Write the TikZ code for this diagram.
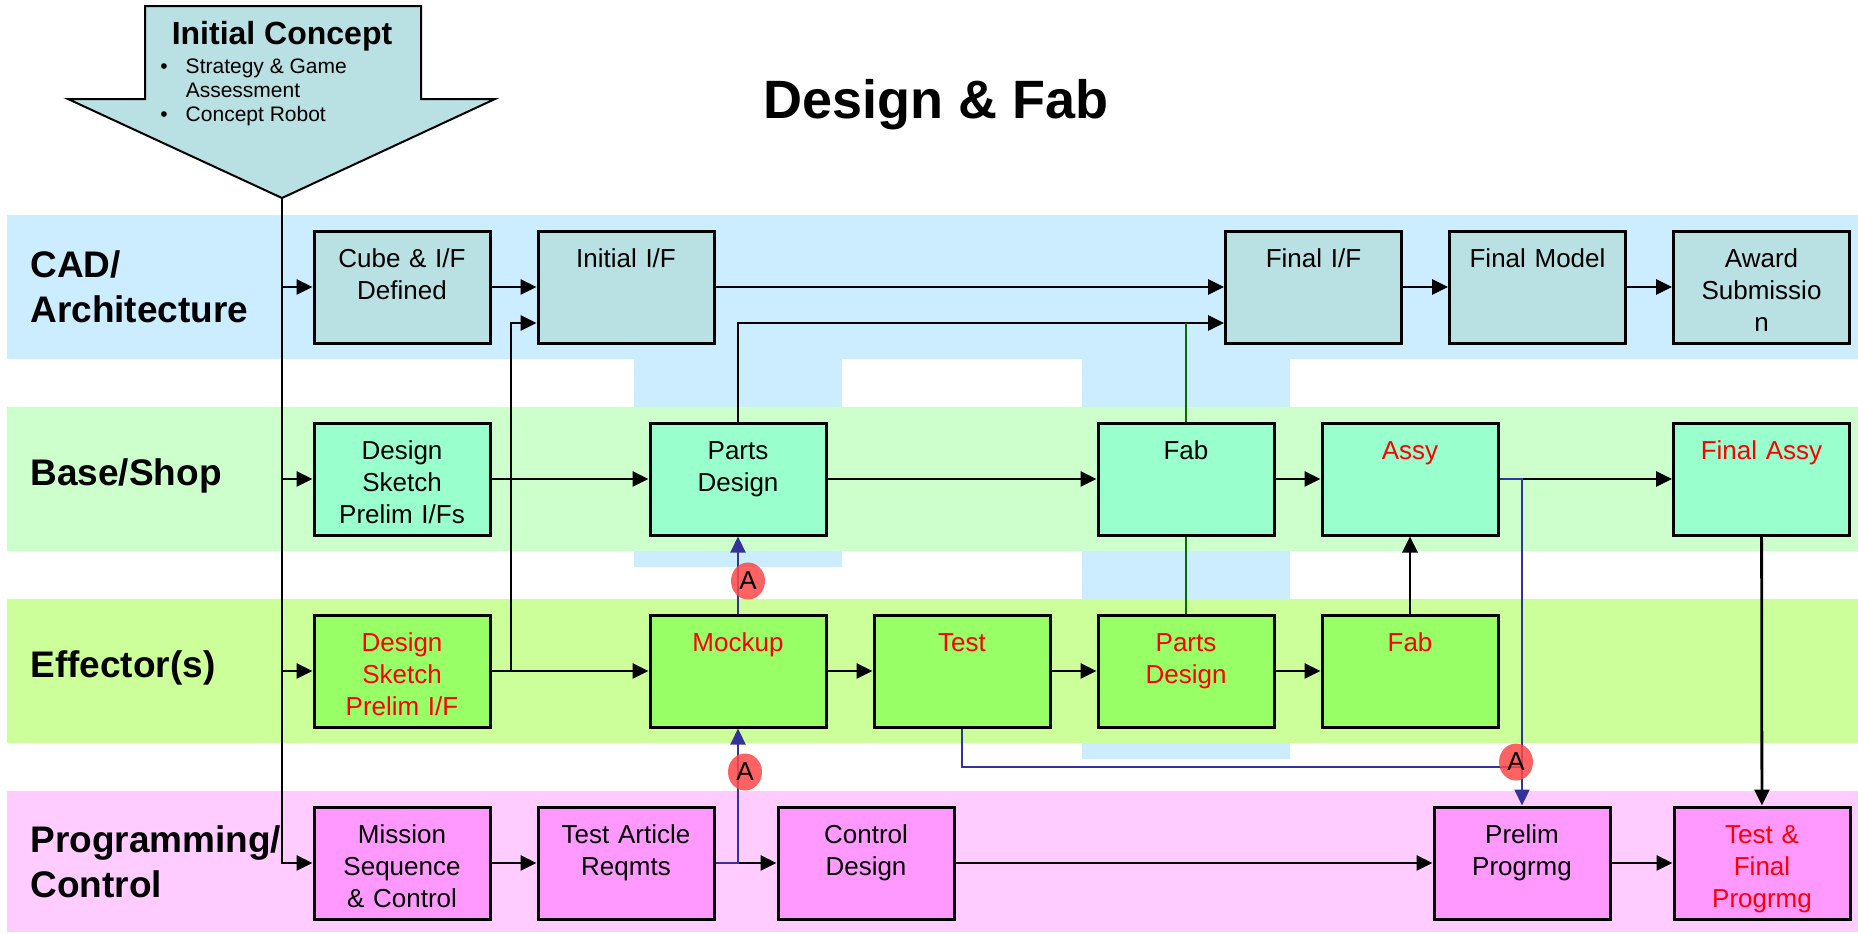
\documentclass[tikz,border=0pt]{standalone}
\usepackage{fontspec}
\setmainfont{Liberation Sans}
\usetikzlibrary{arrows.meta, shapes.geometric}
\definecolor{cadband}{RGB}{204,236,255}
\definecolor{baseband}{RGB}{204,255,204}
\definecolor{effband}{RGB}{204,255,153}
\definecolor{progband}{RGB}{255,204,255}
\definecolor{cadfill}{RGB}{185,224,227}
\definecolor{basefill}{RGB}{153,255,204}
\definecolor{efffill}{RGB}{153,255,102}
\definecolor{progfill}{RGB}{255,153,255}
\definecolor{linkblue}{RGB}{51,51,153}
\definecolor{linkgreen}{RGB}{0,110,0}
\definecolor{markred}{RGB}{255,70,70}

\begin{document}
\begin{tikzpicture}[x=0.5pt, y=-0.5pt, >={Triangle[length=8pt,width=7.5pt]},
  box/.style={draw, line width=1.5pt, minimum width=88pt, text width=84pt, align=center,
    inner xsep=2pt, inner ysep=0pt, text height=18pt, text depth=38pt,
    font=\fontsize{13}{16}\selectfont},
  cad/.style={box, fill=cadfill},
  shop/.style={box, fill=basefill},
  eff/.style={box, fill=efffill, text=red},
  prog/.style={box, fill=progfill},
  lane/.style={anchor=base west, align=left, inner sep=0pt, font=\fontsize{18.5}{22.5}\selectfont\bfseries},
  flow/.style={->, line width=1.4pt},
  blink/.style={line width=1.1pt, draw=linkblue},
  glink/.style={line width=1pt, draw=linkgreen},
  amark/.style={ellipse, fill=markred, fill opacity=0.85, text opacity=1, minimum width=17pt,
    minimum height=18.5pt, inner sep=0pt, font=\fontsize{13}{16}\selectfont}]
  \useasboundingbox (0,0) rectangle (1858,932);
  % swim lanes
  \fill[cadband] (634,359) rectangle (842,567);
  \fill[cadband] (1082,359) rectangle (1290,759);
  \fill[cadband] (7,215) rectangle (1858,359);
  \fill[baseband] (7,407) rectangle (1858,551);
  \fill[effband] (7,599) rectangle (1858,743);
  \fill[progband] (7,791) rectangle (1858,932);
  \node[lane] (lcad) at (30,322) {CAD/\\Architecture};
  \node[lane] (lbase) at (30,485) {Base/Shop};
  \node[lane] (leff) at (30,677) {Effector(s)};
  \node[lane] (lprog) at (30,897) {Programming/\\Control};
  % title
  \node[anchor=base, font=\fontsize{27}{32}\selectfont\bfseries] (title) at (936,118) {Design \& Fab};
  % initial concept arrow
  \filldraw[fill=cadfill, line width=1pt] (145,6) -- (421,6) -- (421,99) -- (495,99) -- (282,198)
    -- (68,99) -- (145,99) -- cycle;
  \coordinate (tip) at (282,198);
  \node[anchor=base, font=\fontsize{16}{19}\selectfont\bfseries] (concept) at (282,44) {Initial Concept};
  \node[anchor=base west, inner sep=0pt, font=\fontsize{10.5}{12}\selectfont] (ideas) at (160,73)
    {\begin{tabular}[t]{@{}l@{\hspace{9pt}}l@{}}
      \textbullet & Strategy \& Game\\
                  & Assessment\\
      \textbullet & Concept Robot
    \end{tabular}};
  % CAD/Architecture
  \node[cad] (cube) at (402,287) {Cube \& I/F\\Defined};
  \node[cad] (initif) at (626,287) {Initial I/F};
  \node[cad] (finalif) at (1313.5,287) {Final I/F};
  \node[cad] (finalmodel) at (1537.5,287) {Final Model};
  \node[cad] (award) at (1761.5,287) {Award\\Submissio\\n};
  % Base/Shop
  \node[shop] (dsbase) at (402,479) {Design\\Sketch\\Prelim I/Fs};
  \node[shop] (pdbase) at (738,479) {Parts\\Design};
  \node[shop] (fab) at (1186,479) {Fab};
  \node[shop, text=red] (assy) at (1410,479) {Assy};
  \node[shop, text=red] (finalassy) at (1761.5,479) {Final Assy};
  % Effector(s)
  \node[eff] (dseff) at (402,671) {Design\\Sketch\\Prelim I/F};
  \node[eff] (mockup) at (738,671) {Mockup};
  \node[eff] (test) at (962,671) {Test};
  \node[eff] (pdeff) at (1186,671) {Parts\\Design};
  \node[eff] (fabeff) at (1410,671) {Fab};
  % Programming/Control
  \node[prog] (mission) at (402,863) {Mission\\Sequence\\\& Control};
  \node[prog] (tart) at (626,863) {Test Article\\Reqmts};
  \node[prog] (ctrl) at (866,863) {Control\\Design};
  \node[prog] (prelim) at (1522,863) {Prelim\\Progrmg};
  \node[prog, text=red] (tfp) at (1762,863) {Test \&\\Final\\Progrmg};
  % feed from the concept
  \draw[flow] (tip) |- (cube.west);
  \draw[flow] (tip) |- (dsbase.west);
  \draw[flow] (tip) |- (dseff.west);
  \draw[flow] (tip) |- (mission.west);
  % flows along the lanes
  \draw[flow] (cube) -- (initif);
  \draw[flow] (initif) -- (finalif);
  \draw[flow] (finalif) -- (finalmodel);
  \draw[flow] (finalmodel) -- (award);
  \draw[flow] (dsbase) -- (pdbase);
  \draw[flow] (pdbase) -- (fab);
  \draw[flow] (fab) -- (assy);
  \draw[flow] (assy) -- (finalassy);
  \draw[flow] (dseff) -- (mockup);
  \draw[flow] (mockup) -- (test);
  \draw[flow] (test) -- (pdeff);
  \draw[flow] (pdeff) -- (fabeff);
  \draw[flow] (mission) -- (tart);
  \draw[flow] (tart) -- (ctrl);
  \draw[flow] (ctrl) -- (prelim);
  \draw[flow] (prelim) -- (tfp);
  % flows across the lanes
  \coordinate (j1) at (511,671);
  \coordinate (fj) at ([yshift=-18pt]finalif.west);
  \draw[flow] (j1) |- ([yshift=-18pt]initif.west);
  \draw[flow] (pdbase.north) |- (fj);
  \draw[glink] (fab.north) -- (fab.north |- fj);
  \draw[glink] (pdeff.north) -- (fab.south);
  \draw[flow] (fabeff) -- (assy);
  \draw[flow] (finalassy) -- (tfp);
  % approval links
  \coordinate (tj) at (1522,767);
  \draw[blink, ->] (tart.east) -| (mockup.south);
  \draw[blink, ->] (mockup.north) -- (pdbase.south);
  \draw[blink, ->] (assy.east) -| (prelim.north);
  \draw[blink] (test.south) |- (tj);
  \node[amark] (a1) at (748,581) {A};
  \node[amark] (a2) at (745,772) {A};
  \node[amark] (a3) at (1516,762) {A};
\end{tikzpicture}
\end{document}
